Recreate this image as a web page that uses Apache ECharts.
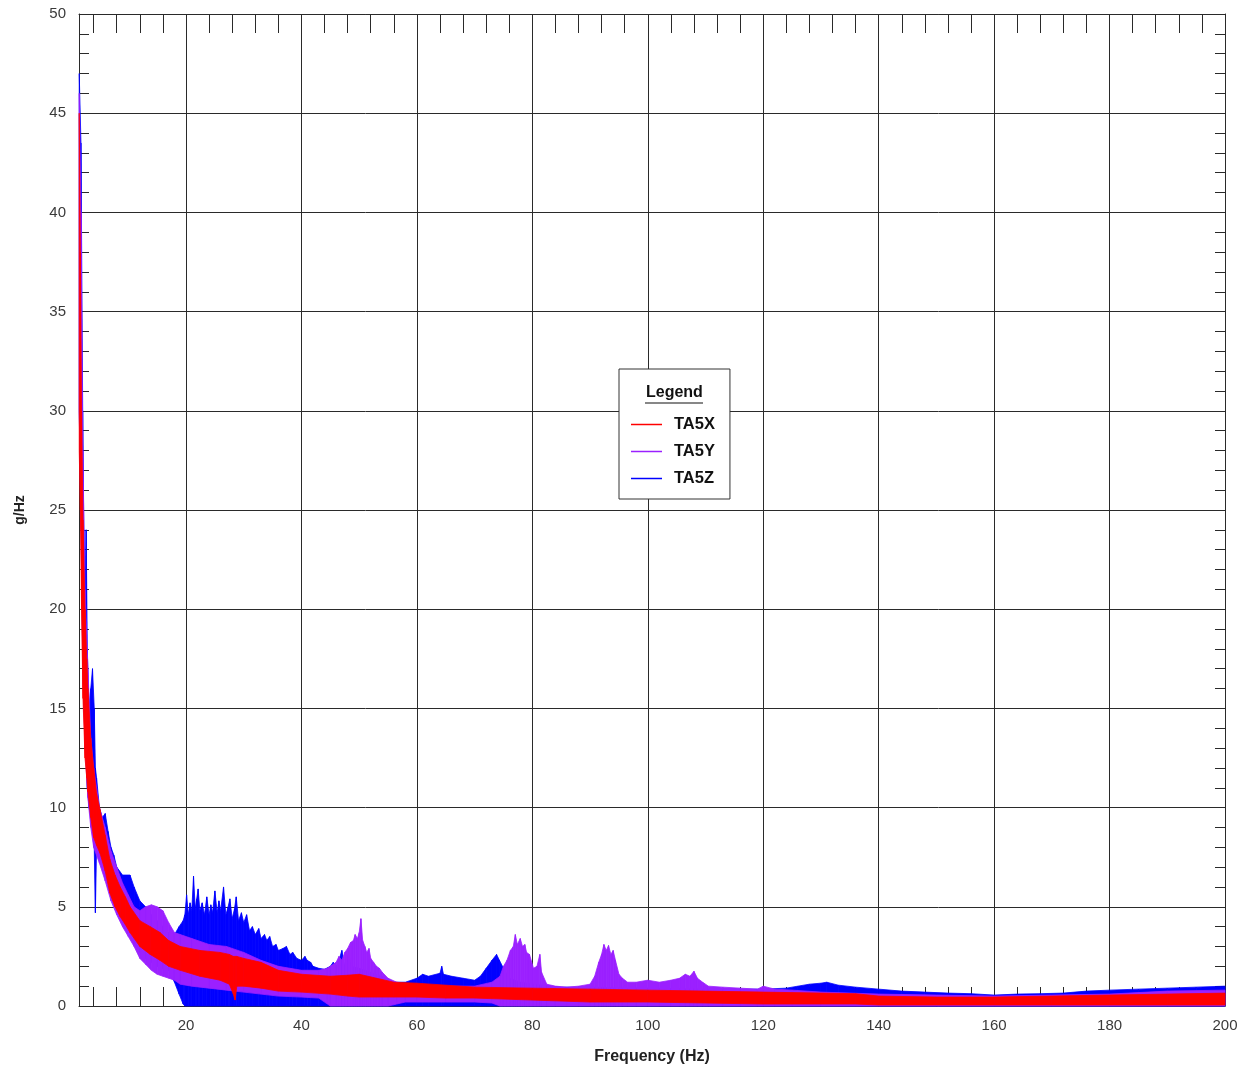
<!DOCTYPE html>
<html>
<head>
<meta charset="utf-8">
<title>TA5 spectrum</title>
<script src="https://cdn.jsdelivr.net/npm/echarts@6/dist/echarts.min.js"></script>
<style>
  html, body { margin: 0; padding: 0; background: #ffffff; }
  #chart { width: 1250px; height: 1072px; }
</style>
</head>
<body>
<div id="chart"></div>
<script>
// Frequency axis range and tick positions (Hz)
const X_MIN = 1.46;
const X_MAX = 200;
const xMajorTicks = [20, 40, 60, 80, 100, 120, 140, 160, 180, 200];
const xMinorTicks = [4, 8, 12, 16, 24, 28, 32, 36, 44, 48, 52, 56, 64, 68, 72, 76, 84, 88, 92, 96,
  104, 108, 112, 116, 124, 128, 132, 136, 144, 148, 152, 156, 164, 168, 172, 176, 184, 188, 192, 196];

// TA5X: upper and lower envelope of the spectrum (g/Hz)
const freqX = [1.5, 1.7, 1.9, 2.15, 2.5, 2.8, 3.0, 3.5, 4.0, 4.5, 5.1, 6.0, 6.8, 7.7, 8.6, 9.5, 10.3, 12.0,
  13.8, 15.5, 17.0, 19.0, 22.4, 25.9, 27.5, 28.2, 28.5, 28.8, 30.0, 33.0, 36.0, 40.0, 45.0, 48.0, 50.0,
  53.0, 56.0, 60.0, 65.0, 70.0, 80.0, 90.0, 100.0, 110.0, 120.0, 130.0, 136.0, 140.0, 150.0, 160.0,
  170.0, 180.0, 190.0, 200.0];
const highX = [45, 38, 30, 24.5, 20, 17.5, 16, 13.5, 12, 10.7, 9.9, 8.6, 7.4, 6.6, 6.0, 5.5, 5.0, 4.3,
  4.0, 3.7, 3.3, 3.0, 2.8, 2.7, 2.6, 2.5, 2.5, 2.5, 2.4, 2.2, 1.8, 1.6, 1.5, 1.55, 1.6,
  1.4, 1.2, 1.15, 1.05, 0.95, 0.9, 0.85, 0.8, 0.75, 0.7, 0.65, 0.62, 0.5, 0.45, 0.45,
  0.5, 0.55, 0.6, 0.65];
const lowX = [28, 25, 20, 15.5, 12.5, 11.5, 10.8, 9.5, 8.5, 8.1, 7.7, 6.8, 5.7, 5.0, 4.5, 4.1, 3.7, 3.0,
  2.6, 2.3, 2.0, 1.8, 1.5, 1.3, 1.1, 0.6, 0.3, 1.0, 1.0, 0.9, 0.75, 0.7, 0.6, 0.5, 0.45,
  0.45, 0.45, 0.45, 0.4, 0.4, 0.3, 0.2, 0.2, 0.15, 0.1, 0.1, 0.1, 0.05, 0.05, 0.05,
  0.05, 0.05, 0.05, 0.05];

// TA5Y
const freqY = [
  1.5, 1.8, 2.1, 2.5, 3.0, 3.5, 4.0, 5.0, 6.0, 7.0, 8.0, 9.0, 10.0, 11.0, 12.0, 13.0, 14.0, 15.0, 16.0,
  17.0, 18.0, 19.0, 21.0, 24.0, 27.0, 30.0, 33.0, 36.0, 40.0, 43.0, 44.5,
  45.0, 46.0, 46.5, 47.0, 47.5, 48.0, 48.5, 49.0, 49.3, 49.7, 50.0, 50.3, 50.6, 51.0, 51.3, 51.7, 52.0,
  52.5, 53.0, 53.5, 54.0, 55.0, 56.5, 58.0,
  60.0, 65.0, 70.0, 73.0, 74.4, 75.0, 75.6, 76.2, 76.7, 77.05, 77.4, 77.9, 78.3, 78.7, 79.0, 79.5, 80.2,
  80.8, 81.3, 81.6, 82.5, 84.0, 86.0, 88.0,
  90.0, 90.8, 91.5, 92.0, 92.4, 92.8, 93.2, 93.6, 94.0, 94.4, 95.0, 95.6, 96.5, 98.0, 100.0, 102.0,
  104.0, 105.5, 106.5, 107.3, 108.0, 108.6, 109.5, 110.5,
  113.0, 116.0, 119.0, 120.0, 122.0, 125.0, 130.0, 140.0, 150.0, 160.0, 170.0, 180.0, 190.0, 200.0];
const highY = [
  46, 40, 28, 21, 17, 13.5, 12, 10, 9, 7.8, 7.0, 6.2, 5.6, 5.0, 4.8, 5.0, 5.1, 5.0, 4.8,
  4.2, 3.7, 3.6, 3.4, 3.1, 3.0, 2.7, 2.3, 2.0, 1.8, 1.8, 1.9,
  2.0, 2.2, 2.5, 2.3, 2.7, 2.9, 3.2, 3.3, 3.6, 3.4, 3.7, 4.4, 3.3, 3.0, 2.7, 2.9, 2.4,
  2.2, 2.0, 1.9, 1.7, 1.4, 1.2, 1.1,
  1.0, 1.0, 1.0, 1.2, 1.5, 2.0, 2.3, 2.8, 3.0, 3.6, 3.1, 3.4, 3.0, 3.1, 2.7, 2.6, 1.9,
  2.0, 2.6, 1.7, 1.1, 1.0, 0.95, 1.0,
  1.1, 1.5, 2.2, 2.6, 3.1, 2.8, 3.05, 2.6, 2.8, 2.3, 1.6, 1.4, 1.2, 1.2, 1.3, 1.2,
  1.3, 1.4, 1.6, 1.5, 1.75, 1.4, 1.2, 1.0,
  0.95, 0.9, 0.85, 1.0, 0.85, 0.8, 0.7, 0.6, 0.55, 0.5, 0.55, 0.6, 0.75, 0.8];
const lowY = [
  30, 24, 17, 13, 10.5, 9, 8, 7.2, 6.3, 5.3, 4.6, 4.0, 3.5, 3.0, 2.4, 2.1, 1.8, 1.6, 1.5,
  1.4, 1.3, 1.1, 1.0, 0.9, 0.8, 0.7, 0.6, 0.5, 0.45, 0.4, 0.1,
  0, 0, 0, 0, 0, 0, 0, 0, 0, 0, 0, 0, 0, 0, 0, 0, 0,
  0, 0, 0, 0, 0, 0.1, 0.2,
  0.2, 0.2, 0.2, 0.15, 0, 0, 0, 0, 0, 0, 0, 0, 0, 0, 0, 0, 0,
  0, 0, 0, 0, 0, 0, 0,
  0, 0, 0, 0, 0, 0, 0, 0, 0, 0, 0, 0, 0, 0, 0, 0,
  0, 0, 0, 0, 0, 0, 0, 0,
  0, 0, 0, 0, 0, 0, 0, 0, 0, 0, 0, 0, 0, 0];

// TA5Z
const freqZ = [
  1.5, 1.8, 2.1, 2.3, 2.5, 2.7, 2.9, 3.2, 3.5, 3.8, 4.1, 4.3, 4.5, 5.0, 5.5, 6.0, 6.5, 7.0, 7.5, 8.0,
  9.0, 10.3, 11.0, 12.0, 13.0, 14.0, 15.0, 16.0, 17.0, 18.0, 18.8,
  19.5, 19.8, 20.1, 20.4, 20.7, 21.0, 21.3, 21.6, 21.85, 22.1, 22.4, 22.8, 23.2, 23.6, 24.0, 24.3, 24.6,
  25.0, 25.4, 25.7, 26.0, 26.5, 26.9, 27.3, 27.6, 28.0, 28.4, 28.7, 29.1, 29.6,
  30.0, 30.5, 31.0, 31.5, 32.0, 32.6, 33.0, 33.6, 34.0, 34.5, 35.0, 35.6, 36.0, 36.8, 37.4, 38.0, 38.5,
  39.2, 40.0, 40.6, 41.0, 41.6, 42.0, 43.0, 44.0, 45.0, 45.5, 46.2, 47.0, 47.4,
  47.8, 48.2, 48.6, 50.0, 52.0, 54.0, 56.0, 58.0, 60.0, 61.0, 62.0, 64.0, 64.3, 64.6, 66.0, 68.0, 70.0,
  71.0, 72.0, 73.0, 73.8, 74.3, 75.0, 76.0, 78.0, 80.0, 85.0, 90.0, 95.0, 100.0,
  110.0, 120.0, 124.0, 126.0, 128.0, 130.0, 131.0, 133.0, 136.0, 140.0, 144.0, 148.0, 152.0, 156.0,
  160.0, 164.0, 168.0, 172.0, 176.0, 180.0, 185.0, 190.0, 195.0, 200.0];
const highZ = [
  47, 43.5, 30, 24, 20, 24, 18, 15, 16, 17, 15, 12, 11.5, 10, 9.5, 9.7, 8.8, 8.0, 7.6, 7.0,
  6.6, 6.6, 6.0, 5.3, 5.0, 4.6, 4.3, 4.0, 3.7, 3.6, 4.0,
  4.3, 4.6, 5.6, 4.6, 5.2, 4.8, 6.55, 4.9, 5.4, 5.9, 4.8, 5.2, 4.6, 5.5, 4.6, 5.1, 4.7,
  5.8, 4.7, 5.3, 4.8, 6.0, 4.6, 5.0, 5.4, 4.4, 4.9, 5.5, 4.3, 4.7,
  4.2, 4.6, 3.8, 4.0, 3.6, 3.9, 3.4, 3.6, 3.3, 3.5, 3.0, 3.1, 2.8, 2.9, 3.0, 2.6, 2.7,
  2.4, 2.3, 2.5, 2.3, 2.2, 2.0, 1.9, 1.85, 2.0, 2.2, 2.0, 2.8, 2.0,
  2.4, 2.7, 2.0, 1.9, 1.7, 1.5, 1.2, 1.2, 1.4, 1.6, 1.5, 1.65, 2.0, 1.6, 1.5, 1.4, 1.3,
  1.5, 1.9, 2.3, 2.6, 2.3, 1.9, 1.4, 1.2, 1.1, 0.95, 0.95, 0.9, 0.9,
  0.85, 0.85, 0.9, 1.0, 1.1, 1.15, 1.2, 1.05, 0.95, 0.85, 0.75, 0.7, 0.65, 0.62,
  0.55, 0.6, 0.62, 0.65, 0.75, 0.8, 0.85, 0.9, 0.95, 1.0];
const lowZ = [
  30, 25, 18, 15, 14, 13, 11, 10, 9.5, 9, 8, 4.7, 8, 7.5, 7, 6.5, 6.0, 5.5, 5.2, 4.8,
  4.2, 3.6, 3.2, 2.7, 2.4, 2.2, 2.0, 1.9, 1.8, 1.2, 0.6,
  0.1, 0, 0, 0, 0, 0, 0, 0, 0, 0, 0, 0, 0, 0, 0, 0, 0,
  0, 0, 0, 0, 0, 0, 0, 0, 0, 0, 0, 0, 0,
  0, 0, 0, 0, 0, 0, 0, 0, 0, 0, 0, 0, 0, 0, 0, 0, 0,
  0, 0, 0, 0, 0, 0, 0, 0, 0, 0, 0, 0, 0,
  0, 0, 0, 0, 0, 0, 0, 0, 0, 0, 0, 0, 0, 0, 0, 0, 0,
  0, 0, 0, 0, 0, 0, 0, 0, 0, 0, 0, 0, 0,
  0, 0, 0, 0, 0, 0, 0, 0, 0, 0, 0, 0, 0, 0,
  0, 0, 0, 0, 0, 0, 0, 0, 0, 0];

const FONT = '"Liberation Sans", Arial, sans-serif';
const AXIS_COLOR = '#2a2a2a';
const LABEL_COLOR = '#3a3a3a';

// A filled band between the lower and upper envelope, one quad per frequency step.
function bandSeries(name, color, freq, high, low) {
  const data = freq.map((f, i) => [f, low[i], high[i]]);
  return {
    type: 'custom',
    name: name,
    coordinateSystem: 'cartesian2d',
    xAxisIndex: 0,
    yAxisIndex: 0,
    itemStyle: { color: color },
    encode: { x: 0, y: [1, 2] },
    silent: true,
    data: data,
    renderItem: function (params, api) {
      const i = params.dataIndexInside;
      if (i >= params.dataInsideLength - 1) return null;
      const points = [
        api.coord([api.value(0, i), api.value(2, i)]),
        api.coord([api.value(0, i + 1), api.value(2, i + 1)]),
        api.coord([api.value(0, i + 1), api.value(1, i + 1)]),
        api.coord([api.value(0, i), api.value(1, i)])
      ];
      return {
        type: 'polygon',
        shape: { points: points },
        style: { fill: color, stroke: color, lineWidth: 0.8 }
      };
    }
  };
}

const chart = echarts.init(document.getElementById('chart'), null, { renderer: 'canvas' });

const minorTickAxis = function (position, showLine) {
  return {
    type: 'value', min: X_MIN, max: X_MAX, position: position,
    axisLine: { show: showLine, onZero: false, lineStyle: { color: AXIS_COLOR, width: 1 } },
    axisTick: { show: true, inside: true, length: 19, customValues: xMinorTicks,
      lineStyle: { color: AXIS_COLOR, width: 1 } },
    axisLabel: { show: false },
    splitLine: { show: false }
  };
};

const yAxisBase = function (position, withLabels) {
  return {
    type: 'value', min: 0, max: 50, interval: 5, position: position,
    axisLine: { show: true, lineStyle: { color: AXIS_COLOR, width: 1 } },
    axisTick: { show: true, inside: true, length: 10, lineStyle: { color: AXIS_COLOR, width: 1 } },
    minorTick: { show: true, splitNumber: 5, length: 10, lineStyle: { color: AXIS_COLOR, width: 1 } },
    axisLabel: { show: withLabels, fontFamily: FONT, fontSize: 15, color: LABEL_COLOR, margin: 13 },
    splitLine: { show: withLabels, lineStyle: { color: AXIS_COLOR, width: 1 } }
  };
};

const yMain = yAxisBase('left', true);
yMain.name = 'g/Hz';
yMain.nameLocation = 'middle';
yMain.nameGap = 52;
yMain.nameTextStyle = { fontFamily: FONT, fontSize: 14, fontWeight: 'bold', color: '#222' };

chart.setOption({
  animation: false,
  backgroundColor: '#ffffff',
  grid: { left: 79, right: 25, top: 14, bottom: 66, containLabel: false },
  title: {
    text: 'Legend', left: 646, top: 385, padding: 0, z: 10,
    textStyle: { fontFamily: FONT, fontSize: 16, fontWeight: 'bold', color: '#111', lineHeight: 16 }
  },
  legend: {
    orient: 'vertical', left: 619, top: 369,
    padding: [47, 15, 12, 12], itemGap: 10, itemWidth: 31, itemHeight: 1.5,
    backgroundColor: '#ffffff', borderColor: '#333333', borderWidth: 1, borderRadius: 0,
    selectedMode: false,
    data: [{ name: 'TA5X', icon: 'rect' }, { name: 'TA5Y', icon: 'rect' }, { name: 'TA5Z', icon: 'rect' }],
    textStyle: { fontFamily: FONT, fontSize: 16.5, fontWeight: 'bold', color: '#111', lineHeight: 16,
      padding: [0, 0, 0, 7] }
  },
  graphic: [{
    type: 'line', z: 100,
    shape: { x1: 645, y1: 403, x2: 703, y2: 403 },
    style: { stroke: '#111', lineWidth: 1.2 }
  }],
  xAxis: [
    {
      type: 'value', min: X_MIN, max: X_MAX, position: 'bottom',
      name: 'Frequency (Hz)', nameLocation: 'middle', nameGap: 43,
      nameTextStyle: { fontFamily: FONT, fontSize: 16, fontWeight: 'bold', color: '#222' },
      axisLine: { show: true, onZero: false, lineStyle: { color: AXIS_COLOR, width: 1 } },
      axisTick: { show: true, inside: true, length: 19, customValues: xMajorTicks,
        lineStyle: { color: AXIS_COLOR, width: 1 } },
      axisLabel: { customValues: xMajorTicks, fontFamily: FONT, fontSize: 15, color: LABEL_COLOR, margin: 12 },
      splitLine: { show: true, lineStyle: { color: AXIS_COLOR, width: 1 } }
    },
    minorTickAxis('bottom', false),
    minorTickAxis('top', true)
  ],
  yAxis: [yMain, yAxisBase('right', false)],
  series: [
    bandSeries('TA5Z', '#0000ff', freqZ, highZ, lowZ),
    bandSeries('TA5Y', '#9b20ff', freqY, highY, lowY),
    bandSeries('TA5X', '#ff0000', freqX, highX, lowX)
  ]
});
</script>
</body>
</html>
